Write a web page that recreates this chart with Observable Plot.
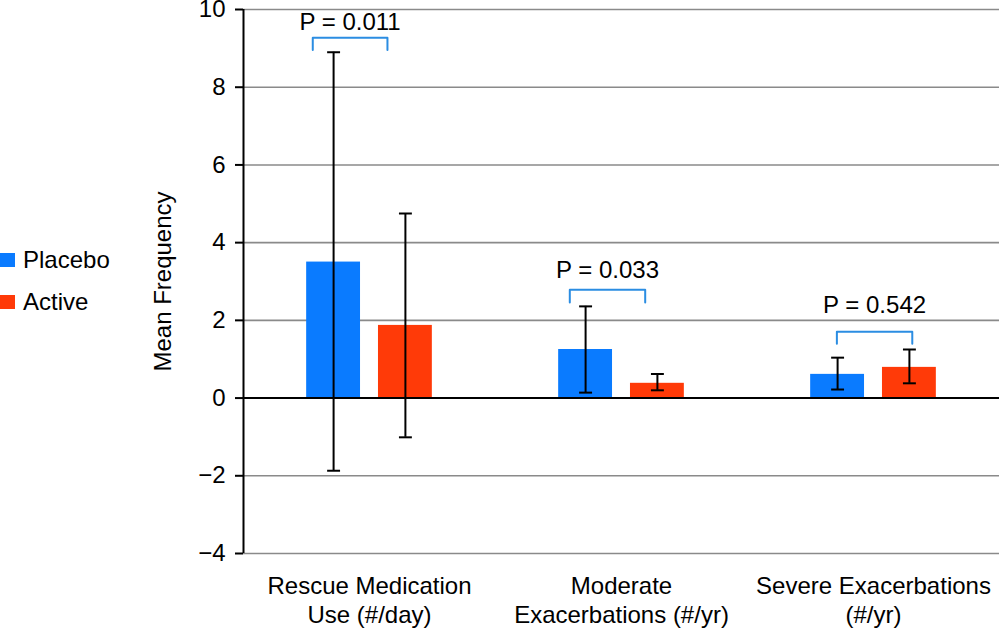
<!DOCTYPE html>
<html><head><meta charset="utf-8">
<script src="https://cdn.jsdelivr.net/npm/d3@7"></script>
<script src="https://cdn.jsdelivr.net/npm/@observablehq/plot@0.6"></script>
<style>
body{margin:0;background:#fff;font-family:"Liberation Sans",Arial,sans-serif;}
#wrap{position:relative;width:1000px;height:629px;}
.sw{position:absolute;left:0;width:15px;height:14px;}
.lt{position:absolute;left:23px;font-size:24px;line-height:24px;color:#000;}
</style></head><body><div id="wrap"></div>
<script>
const categories = ["Rescue Medication\nUse (#/day)", "Moderate\nExacerbations (#/yr)", "Severe Exacerbations\n(#/yr)"];
const groups = ["Placebo", "Active"];
const colors = ["#0a7bff", "#ff3a08"];
const placeboMean = [3.5, 1.25, 0.61];
const placeboLow = [-1.87, 0.14, 0.22];
const placeboHigh = [8.9, 2.36, 1.04];
const activeMean = [1.87, 0.38, 0.79];
const activeLow = [-1.01, 0.2, 0.38];
const activeHigh = [4.75, 0.62, 1.25];
const pValues = ["0.011", "0.033", "0.542"];
const bracketTop = [9.27, 2.79, 1.71];
const bracketBottom = [8.96, 2.46, 1.40];
const bracketStart = [-0.79, -0.72, -0.51];
const bracketEnd = [0.25, 0.33, 0.54];
const pLabelY = [9.46, 3.10, 2.18];
const yTicks = [-4, -2, 0, 2, 4, 6, 8, 10];
const yDomain = [-4, 10];
const xDomain = [-1.7546, 1.7546];

const means = [placeboMean, activeMean], lows = [placeboLow, activeLow], highs = [placeboHigh, activeHigh];
const barData = categories.flatMap((c, i) => groups.map((g, j) => ({
  cat: c, group: g, pos: j - 0.5, mean: means[j][i], low: lows[j][i], high: highs[j][i]
})));
const bracketData = categories.flatMap((c, i) => [
  {cat: c, x: bracketStart[i], y: bracketBottom[i]},
  {cat: c, x: bracketStart[i], y: bracketTop[i]},
  {cat: c, x: bracketEnd[i], y: bracketTop[i]},
  {cat: c, x: bracketEnd[i], y: bracketBottom[i]}
]);
const pData = categories.map((c, i) => ({cat: c, x: (bracketStart[i] + bracketEnd[i]) / 2, y: pLabelY[i], text: "P = " + pValues[i]}));
const first = [{cat: categories[0]}];
const halfBar = 0.375, capHalf = 0.09;

const chart = Plot.plot({
  width: 1000, height: 629,
  marginLeft: 242, marginRight: 0, marginTop: 9, marginBottom: 76,
  style: {fontFamily: "Liberation Sans, Arial, sans-serif", fontSize: "24px", background: "#fff", overflow: "visible"},
  fx: {domain: categories, padding: 0},
  x: {domain: xDomain, axis: null},
  y: {domain: yDomain},
  color: {domain: groups, range: colors},
  marks: [
    Plot.ruleY(yTicks.filter(t => t !== 0), {stroke: "#8a8a8a", strokeWidth: 1.6}),
    Plot.rectY(barData, {fx: "cat", x1: d => d.pos - halfBar, x2: d => d.pos + halfBar, y1: 0, y2: "mean", fill: "group"}),
    Plot.ruleY([0], {stroke: "#000", strokeWidth: 2}),
    Plot.ruleX(barData, {fx: "cat", x: "pos", y1: "low", y2: "high", stroke: "#000", strokeWidth: 2}),
    Plot.link(barData, {fx: "cat", x1: d => d.pos - capHalf, x2: d => d.pos + capHalf, y1: "high", y2: "high", stroke: "#000", strokeWidth: 2}),
    Plot.link(barData, {fx: "cat", x1: d => d.pos - capHalf, x2: d => d.pos + capHalf, y1: "low", y2: "low", stroke: "#000", strokeWidth: 2}),
    Plot.line(bracketData, {fx: "cat", x: "x", y: "y", z: "cat", stroke: "#2b8de2", strokeWidth: 2}),
    Plot.text(pData, {fx: "cat", x: "x", y: "y", text: "text", fontSize: 24, lineAnchor: "bottom", fill: "#000"}),
    Plot.ruleX(first, {fx: "cat", x: () => xDomain[0], stroke: "#000", strokeWidth: 2}),
    Plot.axisY({ticks: yTicks, tickSize: 8, tickPadding: 10, fontSize: 24, stroke: "#000", strokeWidth: 2, label: null}),
    Plot.axisFx({anchor: "bottom", tickSize: 0, tickPadding: 20, fontSize: 24, lineHeight: 1.2, label: null}),
    Plot.text(first, {fx: "cat", frameAnchor: "left", dx: -80, rotate: -90, textAnchor: "middle", text: () => "Mean Frequency", fontSize: 24, fill: "#000"})
  ]
});
const wrap = document.getElementById("wrap");
wrap.appendChild(chart);
const legendTops = [253, 295];
groups.forEach((g, j) => {
  const sw = document.createElement("div");
  sw.className = "sw"; sw.style.top = legendTops[j] + "px"; sw.style.background = colors[j];
  const t = document.createElement("div");
  t.className = "lt"; t.style.top = (legendTops[j] - 5) + "px"; t.textContent = g;
  wrap.appendChild(sw); wrap.appendChild(t);
});
chart.style.position = "absolute"; chart.style.left = "0"; chart.style.top = "0";
</script></body></html>
